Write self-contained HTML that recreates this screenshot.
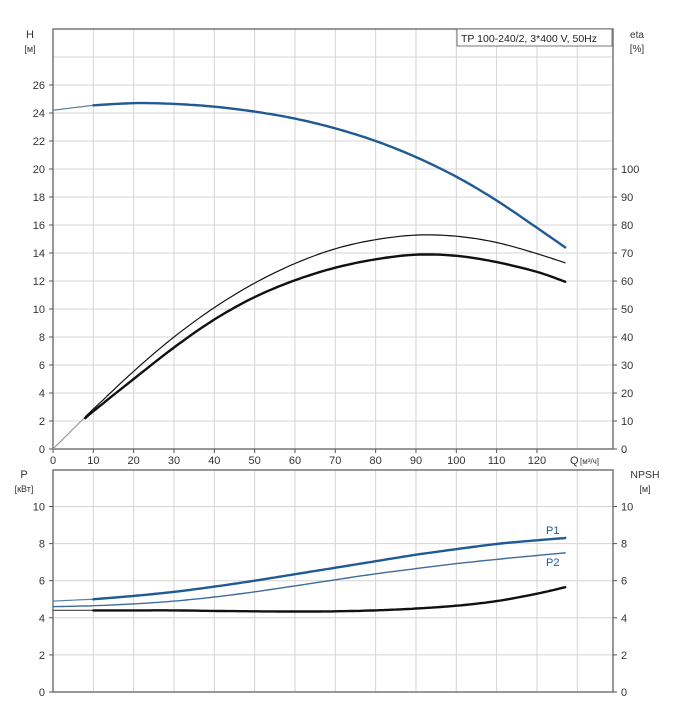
<!DOCTYPE html>
<html><head><meta charset="utf-8"><style>
html,body{margin:0;padding:0;background:#fff;}
svg{display:block;font-family:"Liberation Sans",sans-serif;}
</style></head><body>
<svg id="s" width="675" height="720" viewBox="0 0 675 720" xmlns="http://www.w3.org/2000/svg">
<g id="g"></g>
<text x="0" y="0"> </text>
</svg>
<script>
const NS="http://www.w3.org/2000/svg";const g=document.getElementById('g');
function el(t,a,txt){const e=document.createElementNS(NS,t);for(const k in a)e.setAttribute(k,a[k]);if(txt!==undefined)e.textContent=txt;g.appendChild(e);return e;}
const X=q=>53+q*4.033;
const L=53,R=613;
const T0=449,Tk=14,TT=29;
const YT=v=>T0-v*Tk;
for(let q=10;q<=130;q+=10)el('line',{x1:X(q),x2:X(q),y1:TT,y2:T0,stroke:'#d4d4d4','stroke-width':1});
for(let v=2;v<30;v+=2)el('line',{x1:L,x2:R,y1:YT(v),y2:YT(v),stroke:'#d4d4d4','stroke-width':1});
el('rect',{x:L,y:TT,width:R-L,height:T0-TT,fill:'none',stroke:'#777','stroke-width':1.5});
for(let v=0;v<=26;v+=2){el('line',{x1:L-4,x2:L,y1:YT(v),y2:YT(v),stroke:'#555'});el('text',{x:L-8,y:YT(v)+4,'font-size':11,'text-anchor':'end',fill:'#333'},v);}
for(let e=0;e<=100;e+=10){const y=T0-e*2.8;el('line',{x1:R,x2:R+4,y1:y,y2:y,stroke:'#555'});el('text',{x:R+8,y:y+4,'font-size':11,fill:'#333'},e);}
for(let q=0;q<=120;q+=10){el('line',{x1:X(q),x2:X(q),y1:T0,y2:T0+4,stroke:'#555'});el('text',{x:X(q),y:T0+15,'font-size':11,'text-anchor':'middle',fill:'#333'},q);}
el('text',{x:570,y:464,'font-size':11,fill:'#333'},'Q');
el('text',{x:580,y:464,'font-size':8,fill:'#333'},'[м³/ч]');
el('text',{x:30,y:38,'font-size':11,'text-anchor':'middle',fill:'#333'},'H');
el('text',{x:30,y:52,'font-size':9,'text-anchor':'middle',fill:'#333'},'[м]');
el('text',{x:637,y:38,'font-size':10,'text-anchor':'middle',fill:'#333'},'eta');
el('text',{x:637,y:52,'font-size':10,'text-anchor':'middle',fill:'#333'},'[%]');
el('rect',{x:457,y:29,width:155,height:17,fill:'#fff',stroke:'#777'});
el('text',{x:461,y:42,'font-size':10.5,fill:'#222'},'TP 100-240/2, 3*400 V, 50Hz');
function path(pts,Y,st,w){let d='';pts.forEach((p,i)=>{d+=(i?'L':'M')+X(p[0]).toFixed(1)+','+Y(p[1]).toFixed(1);});el('path',{d:d,fill:'none',stroke:st,'stroke-width':w,'stroke-linejoin':'round','stroke-linecap':'round'});}
function smooth(pts){const o=[];for(let i=0;i<pts.length-1;i++){const p0=pts[Math.max(0,i-1)],p1=pts[i],p2=pts[i+1],p3=pts[Math.min(pts.length-1,i+2)];for(let t=0;t<1;t+=0.1){const t2=t*t,t3=t2*t;const f=(a,b,c,d)=>0.5*((2*b)+(-a+c)*t+(2*a-5*b+4*c-d)*t2+(-a+3*b-3*c+d)*t3);o.push([f(p0[0],p1[0],p2[0],p3[0]),f(p0[1],p1[1],p2[1],p3[1])]);}}o.push(pts[pts.length-1]);return o;}
const H=[[0,24.2],[10,24.55],[20,24.7],[30,24.65],[40,24.45],[50,24.1],[60,23.6],[70,22.9],[80,22.0],[90,20.85],[100,19.45],[110,17.75],[120,15.8],[127,14.4]];
path(smooth(H.slice(0,2)),YT,'#5b7fa6',1.2);
path(smooth(H.slice(1)),YT,'#1f5a94',2.4);
const E1=[[8,2.3],[10,2.85],[20,5.55],[30,8.0],[40,10.1],[50,11.85],[60,13.25],[70,14.3],[80,14.95],[90,15.28],[100,15.2],[110,14.75],[120,13.95],[127,13.3]];
path([[0,0],[8,2.3]],YT,'#999',1.2);
path(smooth(E1),YT,'#111',1.2);
const E2=[[8,2.2],[10,2.7],[20,5.0],[30,7.25],[40,9.25],[50,10.85],[60,12.05],[70,12.95],[80,13.55],[90,13.88],[100,13.8],[110,13.35],[120,12.65],[127,11.95]];
path(smooth(E2),YT,'#111',2.4);
const B0=692,Bk=18.55,BT=470;const YB=v=>B0-v*Bk;
for(let q=10;q<=130;q+=10)el('line',{x1:X(q),x2:X(q),y1:BT,y2:B0,stroke:'#d4d4d4'});
for(let v=2;v<12;v+=2)el('line',{x1:L,x2:R,y1:YB(v),y2:YB(v),stroke:'#d4d4d4'});
el('rect',{x:L,y:BT,width:R-L,height:B0-BT,fill:'none',stroke:'#777','stroke-width':1.5});
for(let v=0;v<=10;v+=2){el('line',{x1:L-4,x2:L,y1:YB(v),y2:YB(v),stroke:'#555'});el('text',{x:L-8,y:YB(v)+4,'font-size':11,'text-anchor':'end',fill:'#333'},v);
el('line',{x1:R,x2:R+4,y1:YB(v),y2:YB(v),stroke:'#555'});el('text',{x:R+8,y:YB(v)+4,'font-size':11,fill:'#333'},v);}
el('text',{x:24,y:478,'font-size':11,'text-anchor':'middle',fill:'#333'},'P');
el('text',{x:24,y:492,'font-size':9,'text-anchor':'middle',fill:'#333'},'[кВт]');
el('text',{x:645,y:478,'font-size':10.5,'text-anchor':'middle',fill:'#333'},'NPSH');
el('text',{x:645,y:492,'font-size':9,'text-anchor':'middle',fill:'#333'},'[м]');
const P1=[[0,4.9],[10,5.0],[20,5.18],[30,5.4],[40,5.68],[50,6.0],[60,6.35],[70,6.7],[80,7.05],[90,7.4],[100,7.7],[110,7.98],[120,8.18],[127,8.3]];
const P2=[[0,4.6],[10,4.65],[20,4.75],[30,4.9],[40,5.12],[50,5.4],[60,5.72],[70,6.05],[80,6.37],[90,6.65],[100,6.92],[110,7.15],[120,7.36],[127,7.5]];
const N=[[0,4.4],[10,4.4],[20,4.4],[30,4.4],[40,4.37],[50,4.35],[60,4.34],[70,4.35],[80,4.4],[90,4.5],[100,4.65],[110,4.9],[120,5.3],[127,5.65]];
path(smooth(P1.slice(0,2)),YB,'#5b7fa6',1.2);path(smooth(P1.slice(1)),YB,'#1f5a94',2.4);
path(smooth(P2),YB,'#3e6c9c',1.4);
path(smooth(N.slice(0,2)),YB,'#555',1.2);path(smooth(N.slice(1)),YB,'#111',2.4);
el('text',{x:546,y:534,'font-size':11,fill:'#1f5a94'},'P1');
el('text',{x:546,y:566,'font-size':11,fill:'#1f5a94'},'P2');
</script>
</body></html>
